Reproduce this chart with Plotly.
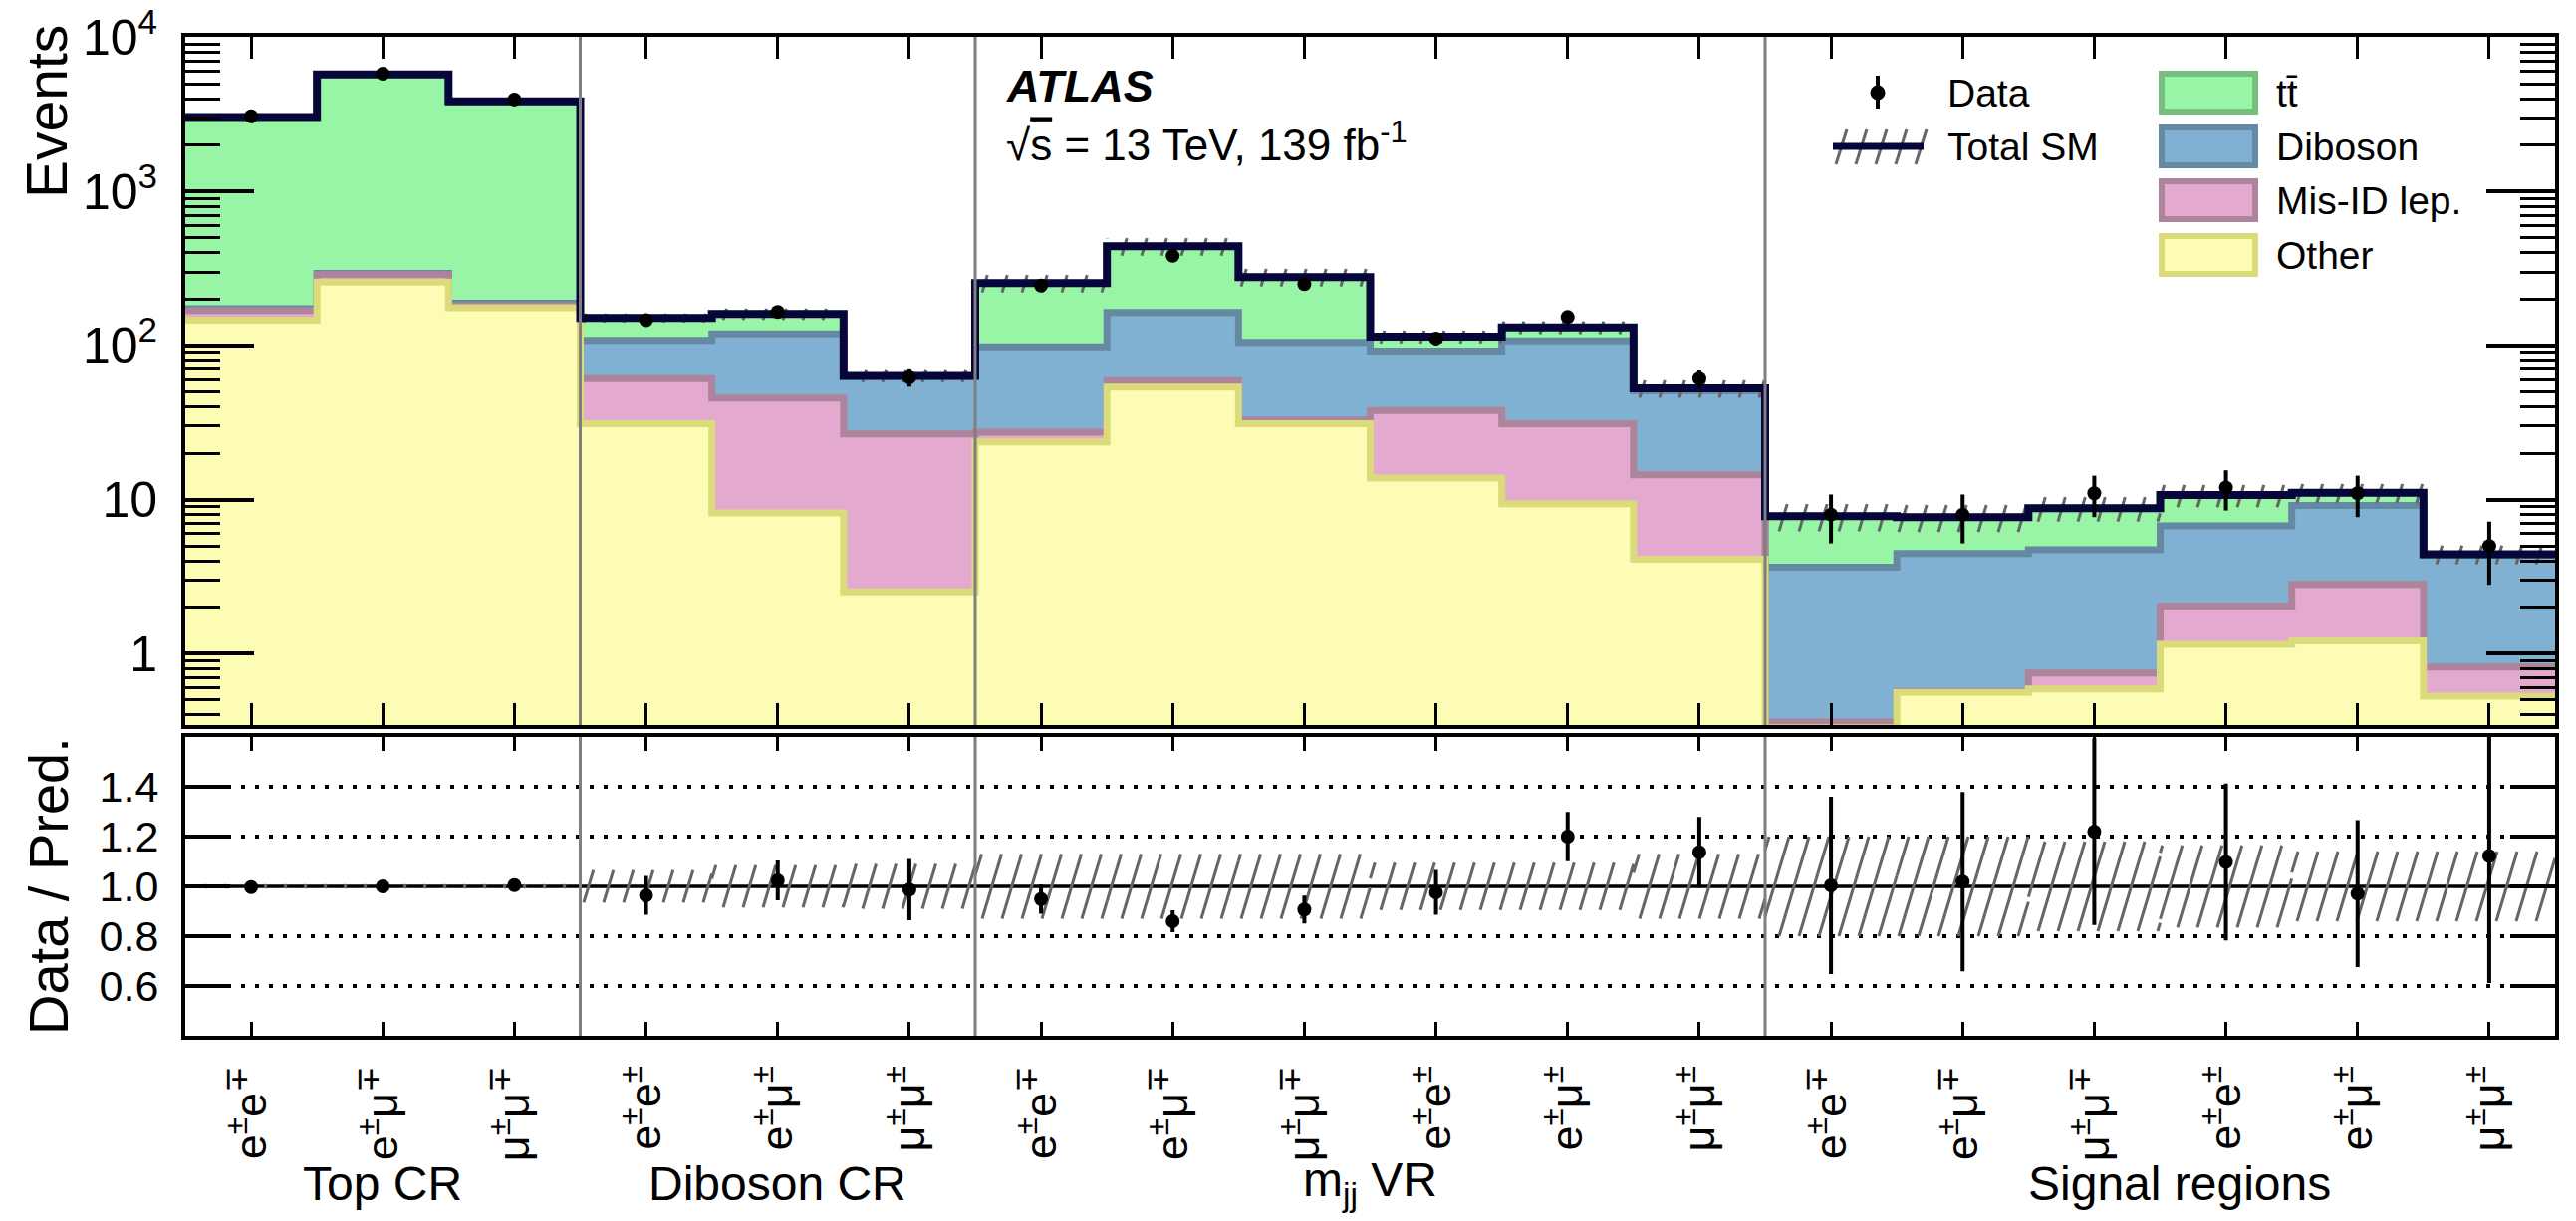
import math
import plotly.graph_objects as go

# ------------------------------------------------------------------ data
bin_labels = [
    "e<sup>±</sup>e<sup>∓</sup>", "e<sup>±</sup>μ<sup>∓</sup>", "μ<sup>±</sup>μ<sup>∓</sup>",
    "e<sup>±</sup>e<sup>±</sup>", "e<sup>±</sup>μ<sup>±</sup>", "μ<sup>±</sup>μ<sup>±</sup>",
    "e<sup>±</sup>e<sup>∓</sup>", "e<sup>±</sup>μ<sup>∓</sup>", "μ<sup>±</sup>μ<sup>∓</sup>",
    "e<sup>±</sup>e<sup>±</sup>", "e<sup>±</sup>μ<sup>±</sup>", "μ<sup>±</sup>μ<sup>±</sup>",
    "e<sup>±</sup>e<sup>∓</sup>", "e<sup>±</sup>μ<sup>∓</sup>", "μ<sup>±</sup>μ<sup>∓</sup>",
    "e<sup>±</sup>e<sup>±</sup>", "e<sup>±</sup>μ<sup>±</sup>", "μ<sup>±</sup>μ<sup>±</sup>",
]
region_names = ["Top CR", "Diboson CR", "m<sub>jj</sub> VR", "Signal regions"]
region_nbins = [3, 3, 6, 6]
region_label_x = [1.5, 4.5, 9.0, 15.15]

other = [146, 258, 176, 31, 8.2, 2.52, 23.7, 53.6, 31, 13.8, 9.4, 4.1,
         0.33, 0.56, 0.59, 1.15, 1.21, 0.53]
misid = [23, 30, 6, 30, 37.3, 24.1, 3.7, 5.4, 1.8, 24, 21.6, 10.4,
         0.03, 0.01, 0.16, 0.89, 1.61, 0.29]
diboson = [4, 6, 6, 47, 73.5, 36.4, 70.6, 105, 72.2, 54.2, 76, 36.5,
           3.28, 3.9, 3.98, 4.71, 6.34, 3.53]
ttbar = [2867, 5446, 3652, 43, 41, 0.4, 156, 276, 173, 22, 24, 1.6,
         4.16, 3.23, 4.07, 3.95, 1.94, 0.07]
sm_unc_rel = [0.008, 0.008, 0.008, 0.065, 0.085, 0.09, 0.13, 0.13, 0.13, 0.095, 0.095, 0.13,
              0.2, 0.2, 0.18, 0.165, 0.14, 0.14]

data = [3070, 5800, 3950, 146, 165, 62, 245, 382, 250, 111, 153, 61,
        8, 8, 11, 12, 11, 5]
data_err = [55, 76, 63, 12, 13, 8, 16, 20, 16, 10.5, 12.4, 7.8,
            2.8, 2.8, 3.3, 3.5, 3.3, 2.2]

ratio = [0.997, 1.0, 1.005, 0.964, 1.024, 0.987, 0.949, 0.86, 0.907, 0.976, 1.2, 1.137,
         1.004, 1.019, 1.22, 1.098, 0.971, 1.122]
ratio_err = [0.015, 0.012, 0.015, 0.078, 0.08, 0.123, 0.059, 0.044, 0.056, 0.09, 0.099, 0.142,
             0.356, 0.36, 0.375, 0.315, 0.295, 0.51]

y_tickvals = [1, 10, 100, 1000, 10000]
y_ticktext = ["1", "10", "10<sup>2</sup>", "10<sup>3</sup>", "10<sup>4</sup>"]
r_tickvals = [0.6, 0.8, 1.0, 1.2, 1.4]
r_ticktext = ["0.6", "0.8", "1.0", "1.2", "1.4"]

# ------------------------------------------------------------------ layout helpers
W, H = 2586, 1226
ML, MR, MT, MB = 186, 21, 37, 186
PW = W - ML - MR
PH = H - MT - MB
MAIN_BOTTOM_PX = 728
RATIO_TOP_PX = 740
Y_LOG_RANGE = [-0.463, 4.003]
R_RANGE = [0.4, 1.6]


def px(xp):
    return (xp - ML) / PW


def py(yp):
    return (H - MB - yp) / PH


FONT = "Liberation Sans, Arial, Helvetica, sans-serif"
NAVY = "#06063a"
HATCH = "#666666"

comp_style = {
    "ttbar": ("#99f5a6", "#76bf7e"),
    "diboson": ("#80b1d3", "#6689a3"),
    "misid": ("#e3a9ce", "#ae839c"),
    "other": ("#fcfcb4", "#dbdb7b"),
}

nb = len(other)
edges = list(range(nb + 1))
centers = [i + 0.5 for i in range(nb)]

cum1 = list(other)
cum2 = [a + b for a, b in zip(cum1, misid)]
cum3 = [a + b for a, b in zip(cum2, diboson)]
total = [a + b for a, b in zip(cum3, ttbar)]

# pixel scales (used only to give the hatching its ROOT-like steep angle)
PPX = PW / nb
PPD = (MAIN_BOTTOM_PX - MT) / (Y_LOG_RANGE[1] - Y_LOG_RANGE[0])
PPU = (H - MB - RATIO_TOP_PX) / (R_RANGE[1] - R_RANGE[0])
HATCH_SPACING_PX = 20.0
HATCH_SLOPE = 0.3   # dx/dy of each stroke


def step_poly(top, base=1e-3):
    xs, ys = [], []
    for i in range(nb):
        xs += [edges[i], edges[i + 1]]
        ys += [top[i], top[i]]
    xs += [edges[-1], edges[0]]
    ys += [base, base]
    return xs, ys


def hatch_lines(center, rel, log):
    xs, ys = [], []
    sp = HATCH_SPACING_PX / PPX
    for i in range(nb):
        lo = center[i] * (1 - rel[i])
        hi = center[i] * (1 + rel[i])
        L, R = edges[i], edges[i + 1]
        hpx = (math.log10(hi) - math.log10(lo)) * PPD if log else (hi - lo) * PPU
        dxt = HATCH_SLOPE * hpx / PPX
        k0 = math.floor((L - dxt) / sp) - 1
        k1 = math.ceil(R / sp) + 1
        for k in range(k0, k1 + 1):
            xb = k * sp
            if dxt > 1e-9:
                t0 = max(0.0, (L - xb) / dxt)
                t1 = min(1.0, (R - xb) / dxt)
            else:
                if not (L <= xb <= R):
                    continue
                t0, t1 = 0.0, 1.0
            if t1 <= t0:
                continue
            for t in (t0, t1):
                xs.append(xb + t * dxt)
                ys.append(lo * (hi / lo) ** t if log else lo + t * (hi - lo))
            xs.append(None)
            ys.append(None)
    return xs, ys


fig = go.Figure()

# stacked histograms drawn from the top of the stack downwards (ROOT style)
for key, top in [("ttbar", total), ("diboson", cum3), ("misid", cum2), ("other", cum1)]:
    fc, lc = comp_style[key]
    xs, ys = step_poly(top)
    fig.add_trace(go.Scatter(x=xs, y=ys, mode="lines", fill="toself", fillcolor=fc,
                             line=dict(width=0, color=fc), hoverinfo="skip",
                             showlegend=False, xaxis="x", yaxis="y"))
    fig.add_trace(go.Scatter(x=edges, y=list(top) + [top[-1]], mode="lines",
                             line=dict(color=lc, width=7, shape="hv"), hoverinfo="skip",
                             showlegend=False, xaxis="x", yaxis="y"))

# total SM uncertainty (hatched)
hx, hy = hatch_lines(total, sm_unc_rel, log=True)
fig.add_trace(go.Scatter(x=hx, y=hy, mode="lines", line=dict(color=HATCH, width=3),
                         hoverinfo="skip", showlegend=False, xaxis="x", yaxis="y"))
# total SM line
fig.add_trace(go.Scatter(x=edges, y=list(total) + [total[-1]], mode="lines",
                         line=dict(color=NAVY, width=8, shape="hv"), hoverinfo="skip",
                         showlegend=False, xaxis="x", yaxis="y"))
# data
fig.add_trace(go.Scatter(x=centers, y=data, mode="markers",
                         marker=dict(color="black", size=14),
                         error_y=dict(type="data", array=data_err, color="black",
                                      thickness=4, width=0),
                         showlegend=False, xaxis="x", yaxis="y"))

# ratio panel
rhx, rhy = hatch_lines([1.0] * nb, sm_unc_rel, log=False)
fig.add_trace(go.Scatter(x=rhx, y=rhy, mode="lines", line=dict(color=HATCH, width=3),
                         hoverinfo="skip", showlegend=False, xaxis="x2", yaxis="y2"))
fig.add_trace(go.Scatter(x=centers, y=ratio, mode="markers",
                         marker=dict(color="black", size=14),
                         error_y=dict(type="data", array=ratio_err, color="black",
                                      thickness=4, width=0),
                         showlegend=False, xaxis="x2", yaxis="y2"))

# ------------------------------------------------------------------ axes
common = dict(showline=True, linewidth=4, linecolor="black", mirror="ticks",
              ticks="inside", tickcolor="black", showgrid=False, zeroline=False,
              automargin=False)
minor_vals = [k * 10 ** d for d in range(-1, 4) for k in range(2, 10) if k * 10 ** d > 0.35]

fig.update_layout(
    width=W, height=H,
    margin=dict(l=ML, r=MR, t=MT, b=MB, pad=0),
    paper_bgcolor="white", plot_bgcolor="white",
    font=dict(family=FONT, color="black"),
    xaxis=dict(domain=[0, 1], anchor="y", range=[0, nb], tickmode="array", tickvals=centers,
               showticklabels=False, ticklen=22, tickwidth=3, **common),
    yaxis=dict(domain=[py(MAIN_BOTTOM_PX), 1], anchor="x", type="log", range=Y_LOG_RANGE,
               tickmode="array", tickvals=y_tickvals, ticktext=y_ticktext,
               ticklen=69, tickwidth=4, tickfont=dict(size=50),
               ticklabelstandoff=14,
               minor=dict(ticks="inside", ticklen=35, tickwidth=3, tickcolor="black",
                          tickmode="array", tickvals=minor_vals, showgrid=False),
               **common),
    xaxis2=dict(domain=[0, 1], anchor="y2", range=[0, nb], matches="x", tickmode="array",
                tickvals=centers, ticktext=bin_labels, tickangle=-90,
                tickfont=dict(size=45), ticklen=14, tickwidth=3, ticklabelstandoff=8,
                **common),
    yaxis2=dict(domain=[0, py(RATIO_TOP_PX)], anchor="x2", range=R_RANGE, tickmode="array",
                tickvals=r_tickvals, ticktext=r_ticktext, tickfont=dict(size=43),
                ticklen=45, tickwidth=4, ticklabelstandoff=14, **common),
)

shapes = []
# dotted reference lines in the ratio panel
for v in [0.6, 0.8, 1.2, 1.4]:
    shapes.append(dict(type="line", xref="x2 domain", yref="y2", x0=0, x1=1, y0=v, y1=v,
                       line=dict(color="black", width=4, dash="4px,10px"), layer="below"))
shapes.append(dict(type="line", xref="x2 domain", yref="y2", x0=0, x1=1, y0=1, y1=1,
                   line=dict(color="black", width=3.5), layer="below"))
# region separators
bounds = []
acc = 0
for n in region_nbins[:-1]:
    acc += n
    bounds.append(acc)
for b in bounds:
    for xr, yr in [("x", "y domain"), ("x2", "y2 domain")]:
        shapes.append(dict(type="line", xref=xr, yref=yr, x0=b, x1=b, y0=0, y1=1,
                           line=dict(color="#7f7f7f", width=3), layer="above"))

# ---- legend (drawn manually, ROOT style)
LEG_ROWS_Y = [93, 147, 201, 256]
# Data
shapes.append(dict(type="line", xref="paper", yref="paper", x0=px(1885), x1=px(1885),
                   y0=py(LEG_ROWS_Y[0] - 17), y1=py(LEG_ROWS_Y[0] + 16),
                   line=dict(color="black", width=4)))
shapes.append(dict(type="circle", xref="paper", yref="paper", x0=px(1877.5), x1=px(1892.5),
                   y0=py(LEG_ROWS_Y[0] + 7.5), y1=py(LEG_ROWS_Y[0] - 7.5),
                   fillcolor="black", line=dict(width=0)))
# Total SM
for k in range(5):
    x0 = 1843 + 20 * k
    shapes.append(dict(type="line", xref="paper", yref="paper", x0=px(x0), x1=px(x0 + 11),
                       y0=py(LEG_ROWS_Y[1] + 18), y1=py(LEG_ROWS_Y[1] - 17),
                       line=dict(color=HATCH, width=3)))
shapes.append(dict(type="line", xref="paper", yref="paper", x0=px(1840), x1=px(1931),
                   y0=py(LEG_ROWS_Y[1]), y1=py(LEG_ROWS_Y[1]), line=dict(color=NAVY, width=7)))
legend_rows = [("tt̄", "ttbar"), ("Diboson", "diboson"),
               ("Mis-ID lep.", "misid"), ("Other", "other")]
for (name, key), yc in zip(legend_rows, LEG_ROWS_Y):
    fc, lc = comp_style[key]
    shapes.append(dict(type="rect", xref="paper", yref="paper", x0=px(2170), x1=px(2264),
                       y0=py(yc + 19), y1=py(yc - 19), fillcolor=fc,
                       line=dict(color=lc, width=6)))

annotations = []
for text, yc in [("Data", LEG_ROWS_Y[0]), ("Total SM", LEG_ROWS_Y[1])]:
    annotations.append(dict(text=text, xref="paper", yref="paper", x=px(1953), y=py(yc),
                            xanchor="left", yanchor="middle", showarrow=False,
                            font=dict(size=39)))
for (name, key), yc in zip(legend_rows, LEG_ROWS_Y):
    annotations.append(dict(text=name, xref="paper", yref="paper", x=px(2283), y=py(yc),
                            xanchor="left", yanchor="middle", showarrow=False,
                            font=dict(size=39)))

# ATLAS label
annotations.append(dict(text="<b><i>ATLAS</i></b>", xref="paper", yref="paper",
                        x=px(1008), y=py(87), xanchor="left", yanchor="middle",
                        showarrow=False, font=dict(size=45)))
annotations.append(dict(text="√<span style='text-decoration:overline'>s</span> = 13 TeV, 139 fb<sup>-1</sup>",
                        xref="paper", yref="paper", x=px(1008), y=py(142),
                        xanchor="left", yanchor="middle", showarrow=False,
                        font=dict(size=44)))

# axis titles
annotations.append(dict(text="Events", xref="paper", yref="paper", x=px(47), y=py(112),
                        xanchor="center", yanchor="middle", textangle=-90,
                        showarrow=False, font=dict(size=57)))
annotations.append(dict(text="Data / Pred.", xref="paper", yref="paper", x=px(48), y=py(890),
                        xanchor="center", yanchor="middle", textangle=-90,
                        showarrow=False, font=dict(size=56)))

# region labels
for name, xc in zip(region_names, region_label_x):
    annotations.append(dict(text=name, xref="x2", yref="paper", x=xc, y=py(1188),
                            xanchor="center", yanchor="middle", showarrow=False,
                            font=dict(size=48)))

fig.update_layout(shapes=shapes, annotations=annotations)
fig.write_html("out.html")
